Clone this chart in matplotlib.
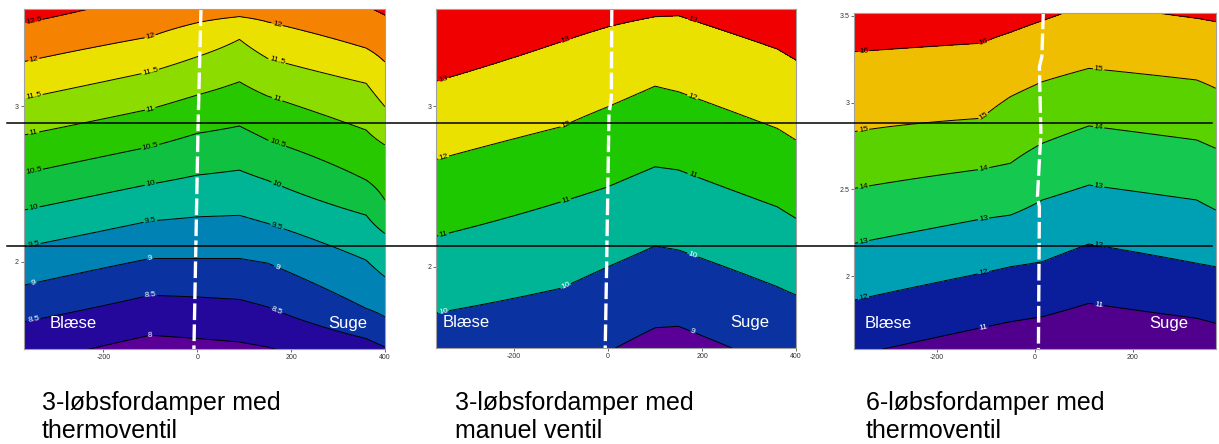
import numpy as np
import matplotlib
matplotlib.use('Agg')
import matplotlib.pyplot as plt
from matplotlib.lines import Line2D
from matplotlib.ticker import FormatStrFormatter

plt.rcParams['font.family'] = ['Liberation Sans', 'DejaVu Sans']
plt.rcParams['axes.unicode_minus'] = False

# -----------------------------
# Panel 1: 3-løbsfordamper med thermoventil
# (height of each isotherm at a few x-stations)
# -----------------------------
p1_x = [-370, -100, 0, 90, 150, 360, 400]
p1_levels = [8, 8.5, 9, 9.5, 10, 10.5, 11, 11.5, 12, 12.5]
p1_heights = [
    [1.337, 1.529, 1.508, 1.486, 1.454, 1.304, 1.285],
    [1.615, 1.786, 1.775, 1.759, 1.711, 1.508, 1.454],
    [1.850, 2.022, 2.022, 2.022, 1.992, 1.701, 1.647],
    [2.096, 2.263, 2.289, 2.299, 2.247, 2.011, 1.904],
    [2.332, 2.499, 2.557, 2.589, 2.523, 2.300, 2.182],
    [2.568, 2.739, 2.825, 2.872, 2.782, 2.525, 2.396],
    [2.814, 2.981, 3.071, 3.156, 3.064, 2.846, 2.750],
    [3.049, 3.220, 3.317, 3.428, 3.306, 3.146, 2.996],
    [3.285, 3.445, 3.535, 3.574, 3.540, 3.372, 3.283],
    [3.531, 3.720, 3.750, 3.790, 3.760, 3.640, 3.584],
]
p1_colors = ['#5a0096', '#23089b', '#0a32a0', '#0082b4', '#00b496', '#10c040',
             '#28c800', '#8cdc00', '#ebe100', '#f58200', '#f00000']
p1_white = [8, 8.5, 9]
p1_label_x = [-348, -100, 170]
p1_div_x = [8, 2, -7]
p1_div_y = [3.62, 2.89, 1.44]
p1_caption = ['3-løbsfordamper med', 'thermoventil']

# -----------------------------
# Panel 2: 3-løbsfordamper med manuel ventil
# -----------------------------
p2_x = [-370, -100, 0, 100, 150, 360, 400]
p2_levels = [9, 10, 11, 12, 13]
p2_heights = [
    [1.046, 1.326, 1.469, 1.620, 1.629, 1.372, 1.326],
    [1.710, 1.866, 2.000, 2.129, 2.104, 1.876, 1.824],
    [2.187, 2.404, 2.498, 2.622, 2.602, 2.373, 2.301],
    [2.664, 2.871, 2.996, 3.124, 3.089, 2.861, 2.788],
    [3.151, 3.400, 3.493, 3.556, 3.562, 3.355, 3.286],
]
p2_colors = ['#5a0096', '#0a32a0', '#00b496', '#1ec800', '#ebe100', '#f00000']
p2_white = [9, 10]
p2_label_x = [-350, -90, 180]
p2_div_x = [8, 7, 2, -3, -6]
p2_div_y = [3.60, 3.05, 2.95, 2.0, 1.49]
p2_caption = ['3-løbsfordamper med', 'manuel ventil']

# -----------------------------
# Panel 3: 6-løbsfordamper med thermoventil
# -----------------------------
p3_x = [-369, -110, -50, 15, 110, 330, 369]
p3_levels = [11, 12, 13, 14, 15, 16]
p3_heights = [
    [1.543, 1.702, 1.737, 1.766, 1.843, 1.757, 1.728],
    [1.862, 2.016, 2.054, 2.083, 2.185, 2.074, 2.054],
    [2.189, 2.329, 2.352, 2.439, 2.525, 2.439, 2.381],
    [2.506, 2.616, 2.651, 2.766, 2.866, 2.785, 2.737],
    [2.833, 2.910, 3.035, 3.121, 3.198, 3.131, 3.083],
    [3.294, 3.343, 3.406, 3.473, 3.573, 3.487, 3.467],
]
p3_colors = ['#50008c', '#0a1e9b', '#00a0b4', '#14c850', '#5ad200', '#f0be00', '#f00000']
p3_white = [11]
p3_label_x = [-350, -105, 130]
p3_div_x = [17, 14, 9, 12, 5, 9, 7]
p3_div_y = [3.52, 3.265, 3.208, 2.823, 2.458, 2.40, 1.578]
p3_caption = ['6-løbsfordamper med', 'thermoventil']

# horizontal reference lines (figure fraction)
guide_rows = [0.7223, 0.4466]

W, H = 1219, 444
fig = plt.figure(figsize=(W / 100, H / 100), dpi=100)


def draw_panel(rect, xs, levels, heights, colors, white, label_x, xlim, ylim,
               xticks, yticks, div_x, div_y, blaese_x, suge_x, caption, cap_x):
    ax = fig.add_axes(rect)
    step = levels[1] - levels[0]
    bounds = [levels[0] - 2 * step] + list(levels) + [levels[-1] + 2 * step]
    vals = [levels[0] - step] + list(levels) + [levels[-1] + step]

    # build a grid: each station column interpolated between isotherm heights,
    # with one extra spacing beyond the outermost isotherms
    yy = np.linspace(ylim[0] - 0.3, ylim[1] + 0.3, 500)
    Z = np.empty((len(yy), len(xs)))
    for j in range(len(xs)):
        col = [row[j] for row in heights]
        h = [2 * col[0] - col[1]] + col + [2 * col[-1] - col[-2]]
        Z[:, j] = np.interp(yy, h, vals)

    ax.contourf(xs, yy, Z, levels=bounds, colors=colors)
    cs = ax.contour(xs, yy, Z, levels=levels, colors='k', linewidths=0.7)
    ax.set_xlim(xlim)
    ax.set_ylim(ylim)

    pos = []
    for row in heights:
        for lx in label_x:
            ly = np.interp(lx, xs, row)
            if ylim[0] + 0.04 < ly < ylim[1] - 0.04:
                pos.append((lx, ly))
    lab_cols = ['white' if lev in white else 'black' for lev in levels]
    ax.clabel(cs, fmt='%g', manual=pos, fontsize=6, colors=lab_cols,
              inline=True, inline_spacing=1)

    ax.plot(div_x, div_y, color='white', lw=2.4, ls=(0, (5, 1.3)),
            solid_capstyle='butt')

    ax.text(blaese_x, 0.062, 'Blæse', transform=ax.transAxes, color='white',
            fontsize=12, va='baseline', ha='left')
    ax.text(suge_x, 0.062, 'Suge', transform=ax.transAxes, color='white',
            fontsize=12, va='baseline', ha='right')

    ax.set_xticks(xticks)
    ax.set_yticks(yticks)
    ax.yaxis.set_major_formatter(FormatStrFormatter('%g'))
    ax.tick_params(labelsize=5, length=2, width=0.6, color='#555555',
                   labelcolor='#333333', pad=1.5)
    for s in ax.spines.values():
        s.set_color('#a0a0a0')
        s.set_linewidth(0.8)

    fig.text(cap_x / W, 1 - 410 / H, caption[0], fontsize=18, va='baseline')
    fig.text(cap_x / W, 1 - 438 / H, caption[1], fontsize=18, va='baseline')
    return ax


draw_panel([0.0193, 0.2140, 0.2965, 0.7657], p1_x, p1_levels, p1_heights,
           p1_colors, p1_white, p1_label_x, (-370, 400), (1.441, 3.623),
           [-200, 0, 200, 400], [2, 3], p1_div_x, p1_div_y, 0.073, 0.950,
           p1_caption, 42)
draw_panel([0.3577, 0.2162, 0.2953, 0.7635], p2_x, p2_levels, p2_heights,
           p2_colors, p2_white, p2_label_x, (-366, 400), (1.494, 3.604),
           [-200, 0, 200, 400], [2, 3], p2_div_x, p2_div_y, 0.017, 0.925,
           p2_caption, 455)
draw_panel([0.7008, 0.2133, 0.2965, 0.7581], p3_x, p3_levels, p3_heights,
           p3_colors, p3_white, p3_label_x, (-369, 369), (1.578, 3.519),
           [-200, 0, 200], [2, 2.5, 3, 3.5], p3_div_x, p3_div_y, 0.030, 0.924,
           p3_caption, 866)

for gy in guide_rows:
    fig.add_artist(Line2D([0.006, 0.994], [gy, gy], color='black', lw=1.1))

fig.savefig('out.png', dpi=100)
